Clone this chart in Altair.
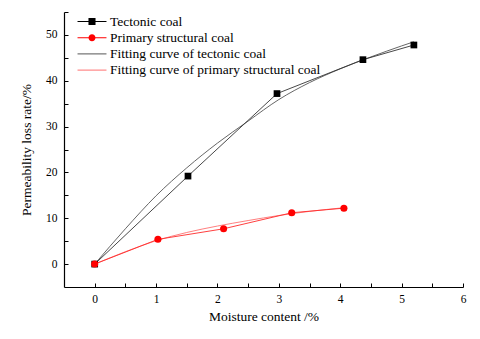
import altair as alt
import pandas as pd

# ---- data ----
series_names = [
    "Tectonic coal",
    "Primary structural coal",
    "Fitting curve of tectonic coal",
    "Fitting curve of primary structural coal",
]
series_colors = ["#000000", "#ff0000", "#555555", "#ff7070"]
line_colors = ["#333333", "#ff2a2a", "#555555", "#ff7070"]

tect_x = [0, 1.52, 2.97, 4.37, 5.20]
tect_y = [0, 19.2, 37.2, 44.6, 47.8]
prim_x = [0, 1.03, 2.10, 3.21, 4.06]
prim_y = [0, 5.4, 7.7, 11.2, 12.2]

fit_t_x = [0, 0.5, 1.0, 1.5, 2.0, 2.5, 3.0, 3.5, 4.0, 4.5, 5.0, 5.2]
fit_t_y = [0, 7.7, 14.9, 21.0, 26.4, 31.2, 35.9, 39.6, 42.6, 45.2, 47.6, 48.5]
fit_p_x = [0, 0.5, 1.0, 1.5, 2.0, 2.5, 3.0, 3.5, 4.06]
fit_p_y = [0, 2.7, 5.1, 6.9, 8.3, 9.5, 10.6, 11.5, 12.3]

x_ticks = [0, 0.5, 1, 1.5, 2, 2.5, 3, 3.5, 4, 4.5, 5, 5.5, 6]
y_ticks = [0, 5, 10, 15, 20, 25, 30, 35, 40, 45, 50, 55]

W, H = 399, 275
FONT = "Liberation Serif"


def frame(xs, ys, name):
    return pd.DataFrame({"x": xs, "y": ys, "series": name})


df_all = pd.concat([
    frame(tect_x, tect_y, series_names[0]),
    frame(prim_x, prim_y, series_names[1]),
    frame(fit_t_x, fit_t_y, series_names[2]),
    frame(fit_p_x, fit_p_y, series_names[3]),
])

xs = alt.Scale(domain=[-0.5, 6], nice=False, zero=False)
ys = alt.Scale(domain=[-5, 55], nice=False, zero=False)

x_main = alt.Axis(orient="bottom", values=x_ticks,
                  labelExpr="datum.value % 1 === 0 ? '' + datum.value : ''",
                  ticks=True, tickSize=alt.ExprRef("-4"), tickColor="black", tickWidth=1,
                  grid=False, labelFlush=False, labelOverlap=False,
                  domainColor="black", domainWidth=1.2, labelFont=FONT,
                  labelFontSize=11.5, labelColor="black", labelPadding=10,
                  title="Moisture content /%", titleFont=FONT, titleFontSize=13.5,
                  titleFontWeight="normal", titleColor="black", titlePadding=5)
y_main = alt.Axis(orient="left", values=y_ticks,
                  labelExpr="datum.value % 10 === 0 ? '' + datum.value : ''",
                  ticks=True, tickSize=alt.ExprRef("-4"), tickColor="black", tickWidth=1,
                  grid=False, labelFlush=False, labelOverlap=False,
                  domainColor="black", domainWidth=1.2, labelFont=FONT,
                  labelFontSize=11.5, labelColor="black", labelPadding=11,
                  title="Permeability loss rate/%", titleFont=FONT, titleFontSize=13.5,
                  titleFontWeight="normal", titleColor="black", titlePadding=12)

X = alt.X("x:Q", scale=xs, axis=x_main)
Y = alt.Y("y:Q", scale=ys, axis=y_main)

base = alt.Chart(df_all)


def line_layer(name, color, interp):
    return base.transform_filter(alt.datum.series == name).mark_line(
        strokeWidth=0.9, color=color, interpolate=interp
    ).encode(x=X, y=Y)


fit_t = line_layer(series_names[2], line_colors[2], "monotone")
fit_p = line_layer(series_names[3], line_colors[3], "monotone")
data_t = line_layer(series_names[0], line_colors[0], "linear")
data_p = line_layer(series_names[1], line_colors[1], "linear")

squares = base.transform_filter(alt.datum.series == series_names[0]).mark_point(
    shape="square", filled=True, size=45, opacity=1, color=series_colors[0]
).encode(x=X, y=Y)

circles = base.transform_filter(alt.datum.series == series_names[1]).mark_point(
    shape="circle", filled=True, size=50, opacity=1, color=series_colors[1]
).encode(x=X, y=Y)

# legend symbols: a thin bar (the line) plus the marker, all filled
p_sq = "M-1.93,-0.067H1.93V0.067H-1.93ZM-0.47,-0.47H0.47V0.47H-0.47Z"
p_ci = ("M-1.93,-0.067H1.93V0.067H-1.93Z"
        "M0.47,0A0.47,0.47,0,1,1,-0.47,0A0.47,0.47,0,1,1,0.47,0Z")
p_ln = "M-1.93,-0.067H1.93V0.067H-1.93Z"

leg = alt.Legend(orient="none", legendX=20.5, legendY=2, padding=0, title=None,
                 labelFont=FONT, labelFontSize=13.5, labelColor="black",
                 labelLimit=400, labelOffset=10.5, rowPadding=2.2,
                 symbolSize=225, symbolStrokeWidth=0, symbolOpacity=1)

legend_layer = base.mark_point(filled=True, opacity=0).encode(
    x=X,
    y=Y,
    color=alt.Color("series:N", scale=alt.Scale(domain=series_names, range=series_colors), legend=leg),
    shape=alt.Shape("series:N", scale=alt.Scale(domain=series_names, range=[p_sq, p_ci, p_ln, p_ln]), legend=leg),
)

chart = alt.layer(
    fit_t, fit_p, data_t, data_p, squares, circles, legend_layer
).properties(
    width=W, height=H,
    padding={"left": 56, "top": 4, "right": 9, "bottom": 36},
    autosize=alt.AutoSizeParams(type="none"),
    background="white",
).configure_view(stroke=None)

chart.save("out.html", embed_options={"renderer": "svg", "actions": False})
